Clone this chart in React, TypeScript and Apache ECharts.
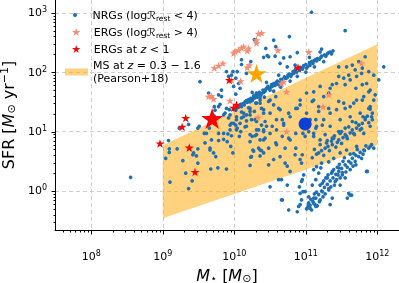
import React, { useEffect, useRef } from "react";
import * as echarts from "echarts";

// ---------- axis ranges / ticks (log10 units) ----------
const X_RANGE_EXP = [7.492, 12.303];
const Y_RANGE_EXP = [-0.657, 3.216];
const X_DECADES = [7, 8, 9, 10, 11, 12];
const Y_DECADES = [-1, 0, 1, 2, 3];
const MINOR_MULT = [2, 3, 4, 5, 6, 7, 8, 9];

// ---------- main sequence band (Pearson+18), log10 SFR ----------
const MS_MASS = [1e9, 1e12];
const MS_LOW_EXP = [-0.46, 0.77];
const MS_HIGH_EXP = [0.77, 2.47];

// ---------- data: [log10 M*, log10 SFR] ----------
const NRG_LOWMASS: number[][] = [
  [8.55, 0.23], [9.08, 0.85], [9.04, 0.55], [9.1, 0.15], [9.09, 0.71], [9.09, 0.65], [9.2, 0.71],
  [9.23, 1.06], [9.36, 1.12], [9.28, 0.51], [9.32, 0.3], [9.36, 0.04], [9.41, 0.17],
  [9.43, 0.64], [9.47, 0.59], [9.42, 0.61], [9.49, 0.71], [9.49, 0.47],
  [9.51, 1.09], [9.49, 1.06], [9.61, 0.97], [9.58, 0.97], [9.65, 1.06],
  [9.59, 0.81], [9.66, 0.72], [9.66, 0.69], [9.71, 0.64], [9.74, 0.58],
  [9.67, 0.37], [9.77, 0.39], [9.89, 0.37],
  [9.68, 0.86], [9.78, 0.85], [9.85, 0.87], [9.9, 0.83], [9.95, 0.75], [9.98, 0.64],
  [9.72, 1.26], [9.72, 1.42], [9.78, 0.97], [9.85, 0.97], [9.91, 0.96], [9.96, 0.93],
  [9.94, 1.11], [9.99, 1.14], [9.92, 1.23], [9.94, 1.28], [9.85, 1.28], [9.93, 1.37], [9.99, 1.37],
  [9.87, 1.31], [9.73, 1.36], [9.78, 1.42], [9.8, 1.46], [9.89, 1.39],
  [10.22, 0.43], [10.23, 0.57], [10.36, 0.59], [10.38, 0.68], [10.34, 0.72], [10.26, 0.69],
  [10.22, 0.83], [10.29, 0.93], [10.34, 1.03], [10.36, 0.86], [10.25, 0.92], [10.38, 1.11],
  [10.03, 1.25], [10.08, 1.14], [10.02, 1.11], [10.04, 1.06], [10.09, 1.0], [10.07, 0.92],
  [10.15, 1.08], [10.17, 1.18], [10.22, 1.28], [10.17, 1.28], [10.24, 1.2], [10.13, 1.31], [10.1, 1.23],
  [10.27, 1.56], [10.31, 1.48], [10.36, 1.53], [10.38, 1.39], [10.41, 1.31], [10.28, 1.34],
  [10.22, 1.39], [10.31, 1.17], [10.41, 1.0],
];
const NRG_UPPER: number[][] = [
  [9.52, 1.84], [9.64, 1.65], [9.78, 1.62], [9.82, 1.7], [9.82, 1.59], [9.98, 2.01], [10.04, 2.01],
  [9.96, 1.95], [10.02, 1.9], [10.06, 1.81], [9.99, 1.76], [10.08, 1.73], [10.02, 1.63], [10.31, 1.65],
  [10.36, 1.57], [10.1, 2.13], [10.28, 2.55], [9.89, 2.01], [9.92, 1.93],
  [11.55, 2.7], [10.77, 2.6], [10.55, 2.54], [10.58, 2.43], [10.44, 2.4], [10.57, 2.27], [10.48, 2.26],
  [10.64, 2.15], [10.41, 2.25], [10.23, 2.18], [10.17, 1.98], [10.1, 2.21], [10.88, 2.33], [10.78, 2.26],
  [11.08, 3.01], [10.46, 2.28], [10.69, 2.24], [10.74, 2.09], [11.22, 2.39], [11.83, 2.26],
  [12.09, 2.09], [12.02, 1.87],
];
const NRG_RIDGE: number[][] = [
  [10.0, 1.38], [10.04, 1.4], [10.07, 1.44], [10.1, 1.42], [10.12, 1.47], [10.15, 1.5], [10.18, 1.49],
  [10.2, 1.54], [10.23, 1.56], [10.25, 1.52], [10.27, 1.6], [10.3, 1.62], [10.32, 1.58], [10.35, 1.66],
  [10.38, 1.64], [10.4, 1.7], [10.43, 1.68], [10.45, 1.73], [10.47, 1.76], [10.5, 1.74], [10.52, 1.79],
  [10.55, 1.81], [10.57, 1.78], [10.6, 1.85], [10.62, 1.83], [10.65, 1.88], [10.67, 1.86], [10.7, 1.92],
  [10.72, 1.9], [10.75, 1.95], [10.77, 1.97], [10.8, 1.96], [10.82, 2.01], [10.85, 2.03], [10.87, 2.0],
  [10.9, 2.06], [10.92, 2.08], [10.95, 2.05], [10.97, 2.11], [11.0, 2.13], [11.03, 2.1], [11.05, 2.16],
  [11.08, 2.18], [11.1, 2.15], [11.13, 2.21], [11.16, 2.23], [11.19, 2.22], [11.22, 2.27], [11.26, 2.29],
  [11.3, 2.31], [11.34, 2.34], [11.38, 2.36],
  [10.1, 1.33], [10.2, 1.4], [10.3, 1.48], [10.42, 1.58], [10.55, 1.68], [10.65, 1.75], [10.78, 1.85],
  [10.88, 1.93], [11.0, 2.0], [11.12, 2.09], [11.25, 2.18],
  [10.25, 1.66], [10.45, 1.83], [10.62, 1.95], [10.85, 2.12], [11.05, 2.25], [11.2, 2.34],
  [10.02, 1.36], [10.06, 1.41], [10.09, 1.46], [10.14, 1.45], [10.17, 1.52], [10.22, 1.5], [10.26, 1.56],
  [10.29, 1.57], [10.33, 1.63], [10.37, 1.61], [10.41, 1.66], [10.44, 1.71], [10.49, 1.72], [10.53, 1.76],
  [10.58, 1.82], [10.61, 1.8], [10.66, 1.84], [10.69, 1.89], [10.74, 1.91], [10.79, 1.93], [10.83, 1.98],
  [10.86, 2.06], [10.91, 2.03], [10.96, 2.08], [11.01, 2.07], [11.06, 2.12], [11.11, 2.19], [11.15, 2.19],
  [11.21, 2.25], [11.28, 2.27], [11.32, 2.33], [11.36, 2.31],
];
const NRG_BAND: number[][] = [
  [10.03, 1.2], [10.13, 1.25], [10.22, 1.34], [10.29, 1.2], [10.41, 1.37], [10.36, 1.48], [10.5, 1.53],
  [10.55, 1.45], [10.64, 1.37], [10.59, 1.2], [10.45, 1.09], [10.31, 1.03], [10.17, 1.09], [10.69, 1.14],
  [10.78, 1.25], [10.88, 1.39], [10.92, 1.53], [11.01, 1.65], [11.11, 1.67], [11.2, 1.76], [11.11, 1.53],
  [11.18, 1.42], [11.25, 1.59], [11.34, 1.73], [11.43, 1.81], [11.53, 1.9], [11.62, 1.87], [11.71, 1.93],
  [11.57, 2.09], [11.69, 2.04], [11.78, 1.98], [11.85, 1.81], [11.9, 1.7], [11.81, 1.59], [11.71, 1.53],
  [11.62, 1.42], [11.53, 1.48], [11.43, 1.37], [11.34, 1.31], [11.25, 1.2], [11.15, 1.09], [11.06, 1.2],
  [11.01, 1.31], [10.96, 1.14], [11.11, 0.97], [11.34, 1.09], [11.48, 1.2], [11.62, 1.25], [11.76, 1.31],
  [11.9, 1.42], [11.95, 1.53], [10.64, 1.76], [10.5, 1.7],
  [11.46, 2.09], [11.65, 2.12], [11.74, 2.18], [11.79, 2.07], [11.88, 2.01], [11.95, 1.95], [11.6, 1.95],
  [11.46, 1.93], [11.55, 1.79], [11.7, 1.73], [11.79, 1.79], [11.88, 1.67], [11.97, 1.62], [11.37, 1.79],
  [11.32, 1.65],
  [10.48, 1.51], [10.58, 1.59], [10.62, 1.39], [10.5, 1.31], [10.43, 1.17], [10.53, 1.09], [10.67, 1.2],
  [10.76, 1.31], [10.86, 1.39], [10.92, 1.45], [11.09, 1.51], [11.18, 1.34], [11.32, 1.39], [11.46, 1.51],
  [11.55, 1.39], [11.67, 1.48], [11.79, 1.53], [11.88, 1.39], [11.83, 1.23], [11.74, 1.11], [11.65, 1.17],
  [11.55, 1.06], [11.46, 1.0], [11.37, 0.89], [11.27, 0.95], [11.23, 1.11], [11.14, 1.2], [11.14, 1.06],
  [11.04, 1.0], [10.99, 0.92], [10.86, 0.97], [10.76, 0.89], [10.67, 0.92], [10.58, 0.81], [10.48, 0.72],
  [10.43, 0.89], [10.71, 0.72], [10.86, 0.72], [10.71, 0.47], [10.48, 0.44], [10.95, 0.61],
  [11.09, 0.56], [11.18, 0.64], [11.27, 0.72], [11.37, 0.78], [11.46, 0.86], [11.55, 0.95], [11.65, 1.03],
  [11.74, 1.11], [11.83, 1.2], [11.93, 1.31], [11.12, 0.7], [11.2, 0.78], [11.25, 0.6], [11.3, 0.85],
  [11.33, 0.68], [11.4, 0.93], [11.42, 0.74], [11.5, 0.8], [11.5, 1.0], [11.58, 0.88], [11.6, 1.08],
  [11.68, 0.95], [11.7, 1.15], [11.78, 1.05], [11.8, 1.25], [11.88, 1.15], [11.9, 1.38], [11.93, 1.2],
  [11.15, 0.62], [11.22, 0.68], [11.31, 0.75], [11.36, 0.84], [11.44, 0.82], [11.52, 0.9], [11.62, 0.98],
  [11.71, 1.06], [11.79, 1.14], [11.86, 1.26], [11.92, 1.25],
  [9.94, 1.03], [10.03, 1.03], [10.22, 0.95], [10.31, 0.95], [10.41, 1.03], [10.5, 0.97], [10.59, 1.03],
  [10.69, 1.11], [10.27, 0.67], [10.24, 0.58], [10.36, 0.69], [10.41, 0.86], [10.59, 0.78], [10.78, 0.86],
  [10.96, 0.97], [11.11, 0.92], [11.2, 0.86], [11.29, 0.81], [11.39, 0.89], [11.48, 0.97], [11.57, 0.92],
  [11.67, 0.97], [11.76, 1.03], [11.81, 0.97], [11.9, 1.09], [10.78, 0.33], [10.94, 0.47], [10.92, 0.53],
  [9.96, 1.14], [10.41, 0.64], [10.55, 0.53], [10.64, 0.58], [10.74, 0.42], [10.85, 0.61],
];
const NRG_LOWER: number[][] = [
  [10.66, -0.15], [10.76, -0.32], [10.88, -0.35], [10.92, -0.23], [10.94, -0.15], [10.96, -0.01],
  [10.94, 0.16], [11.11, 0.36], [11.15, 0.41], [11.22, 0.47], [11.32, 0.49], [11.39, 0.55], [11.48, 0.64],
  [11.57, 0.69], [11.71, 0.75], [11.81, 0.69], [11.9, 0.75], [11.95, 0.72], [11.85, 0.33], [11.6, -0.04],
  [11.64, -0.07], [11.2, -0.15], [11.13, -0.23], [11.06, -0.29], [10.66, 0.19], [10.5, 0.07],
  [11.01, -0.3], [11.06, -0.24], [11.1, -0.18], [11.14, -0.12], [11.18, -0.06], [11.22, 0.0], [11.26, 0.06],
  [11.3, 0.11], [11.34, 0.17], [11.38, 0.22], [11.42, 0.28], [11.46, 0.33], [11.5, 0.38], [11.55, 0.44],
  [11.6, 0.5], [11.65, 0.55], [11.7, 0.6], [11.76, 0.65], [11.82, 0.68], [11.88, 0.72],
  [11.04, -0.2], [11.08, -0.32], [11.12, -0.05], [11.16, -0.25], [11.2, 0.1], [11.24, -0.1], [11.28, 0.22],
  [11.32, 0.02], [11.36, 0.3], [11.4, 0.1], [11.44, 0.4], [11.48, 0.22], [11.52, 0.5], [11.56, 0.32],
  [11.62, 0.62], [11.66, 0.42], [11.72, 0.7], [11.78, 0.55],
  [11.04, -0.23], [11.11, -0.12], [11.23, -0.01], [11.32, 0.04], [11.41, 0.16], [11.51, 0.27], [11.62, 0.36],
  [11.7, 0.44], [11.09, 0.1], [11.14, 0.19], [11.18, 0.3], [11.21, 0.39], [11.3, 0.22], [11.37, 0.33],
  [11.46, 0.39], [10.99, -0.01], [11.04, -0.1], [11.14, -0.26], [11.02, -0.29], [10.9, -0.26],
  [10.67, -0.15], [10.92, -0.04], [10.95, 0.19], [10.97, 0.27], [10.91, 0.07], [10.74, 0.1], [10.62, 0.19],
  [11.34, -0.23], [11.37, -0.12], [11.48, 0.1], [11.58, -0.12], [11.62, -0.07], [11.86, 0.33], [11.55, 0.22],
  [11.03, -0.27], [11.07, -0.14], [11.11, -0.21], [11.15, -0.02], [11.19, -0.18], [11.23, 0.13],
  [11.27, -0.05], [11.31, 0.27], [11.35, 0.07], [11.39, 0.36], [11.43, 0.19], [11.47, 0.45], [11.51, 0.31],
  [11.54, 0.56], [11.58, 0.4], [11.63, 0.47], [11.67, 0.63], [11.74, 0.58], [11.8, 0.62], [11.84, 0.76],
  [11.92, 0.78], [11.69, 0.5], [11.45, 0.27], [11.25, 0.17],
];
const ERG_HIGH: number[][] = [
  [10.01, 2.35], [10.1, 2.41], [10.2, 2.4], [10.31, 2.54], [10.34, 2.65], [10.38, 2.66], [10.31, 2.49],
  [10.13, 2.43], [10.06, 2.37], [10.18, 2.36], [9.99, 2.32], [10.21, 2.12], [10.18, 2.08], [10.09, 1.85],
  [9.72, 2.07], [9.78, 2.11], [9.84, 2.15], [9.96, 1.87], [9.64, 1.59], [9.68, 1.6], [9.71, 1.55],
  [9.94, 1.52], [10.61, 2.37], [11.04, 2.34], [10.69, 1.84], [10.66, 1.81], [10.73, 1.67], [11.78, 2.15],
  [11.32, 1.62], [11.24, 1.42], [10.33, 1.24], [10.73, 1.0],
];
const ERG_LOWZ: number[][] = [
  [8.96, 0.8], [9.32, 1.23], [9.27, 1.08], [9.37, 0.73], [9.45, 0.32], [9.99, 1.4], [10.03, 1.45],
  [9.93, 1.87], [10.89, 2.08],
];
const BIG_RED: number[][] = [[9.69, 1.22]];
const BIG_ORANGE: number[][] = [[10.31, 1.98]];
const BIG_BLUE: number[][] = [[10.99, 1.13]];

const FONT = "DejaVu Sans";
const INK = "#000000";
const STAR =
  "path://M0,-10L2.245,-3.09L9.511,-3.09L3.633,1.18L5.878,8.09L0,3.82L-5.878,8.09L-3.633,1.18L-9.511,-3.09L-2.245,-3.09Z";
const BAND_COLOR = "rgba(255,165,0,0.5)";

const toLin = (arr: number[][]) => arr.map(([m, s]) => [Math.pow(10, m), Math.pow(10, s)]);

export default function App() {
  const ref = useRef<HTMLDivElement>(null);
  useEffect(() => {
    const chart = echarts.init(ref.current!, null, { renderer: "svg" });
    const xMin = Math.pow(10, X_RANGE_EXP[0]);
    const xMax = Math.pow(10, X_RANGE_EXP[1]);
    const yMin = Math.pow(10, Y_RANGE_EXP[0]);
    const yMax = Math.pow(10, Y_RANGE_EXP[1]);

    const tickList = (decades: number[], range: number[]) => {
      const major: number[] = [];
      const minor: number[] = [];
      decades.forEach((e) => {
        if (e >= range[0] && e <= range[1]) major.push(Math.pow(10, e));
        MINOR_MULT.forEach((m) => {
          const lv = e + Math.log10(m);
          if (lv > range[0] && lv < range[1]) minor.push(m * Math.pow(10, e));
        });
      });
      return { major, minor };
    };
    const xt = tickList(X_DECADES, X_RANGE_EXP);
    const yt = tickList(Y_DECADES, Y_RANGE_EXP);

    const labelRich = {
      b: { fontFamily: FONT, fontSize: 11, color: INK, lineHeight: 14 },
      s: { fontFamily: FONT, fontSize: 8, color: INK, lineHeight: 8, verticalAlign: "top" },
    };
    const powFmt = (v: number) => `{b|10}{s|${Math.round(Math.log10(v))}}`;

    const nameRich = {
      it: { fontFamily: FONT, fontSize: 16, fontStyle: "italic", color: INK, lineHeight: 18 },
      sub: { fontFamily: FONT, fontSize: 11, color: INK, lineHeight: 12, verticalAlign: "bottom" },
      sup: { fontFamily: FONT, fontSize: 11, color: INK, lineHeight: 12, verticalAlign: "top" },
    };
    const legendRich = {
      cal: { fontFamily: FONT, fontSize: 11, color: INK, lineHeight: 14 },
      sub: { fontFamily: FONT, fontSize: 7.5, color: INK, lineHeight: 8, verticalAlign: "bottom" },
      it: { fontFamily: FONT, fontSize: 11, fontStyle: "italic", color: INK, lineHeight: 14 },
      it2: { fontFamily: FONT, fontSize: 11, fontStyle: "italic", color: INK, lineHeight: 13 },
    };
    const legendText: Record<string, string> = {
      NRGs: "NRGs (log{cal|ℛ}{sub|rest} < 4)",
      ERGs: "ERGs (log{cal|ℛ}{sub|rest} > 4)",
      "ERGs z<1": "ERGs at {it|z} < 1",
      MS: "MS at {it2|z} = 0.3 − 1.6\n(Pearson+18)",
    };
    const legendBase = {
      orient: "vertical",
      padding: 0,
      itemGap: 3,
      selectedMode: false,
      formatter: (n: string) => legendText[n] || n,
      textStyle: { fontFamily: FONT, fontSize: 11, color: INK, lineHeight: 14, rich: legendRich },
    };

    const option: any = {
      animation: false,
      grid: { left: 55, right: 0, top: 0, bottom: 53, containLabel: false, outerBoundsMode: "none" },
      legend: [
        { ...legendBase, left: 73, top: 8, itemWidth: 25, itemHeight: 4, data: [{ name: "NRGs", icon: "circle" }] },
        { ...legendBase, left: 72, top: 25, itemWidth: 25, itemHeight: 8, data: ["ERGs", "ERGs z<1"] },
        {
          ...legendBase,
          left: 65,
          top: 59,
          itemWidth: 23,
          itemHeight: 7,
          textStyle: { ...legendBase.textStyle, lineHeight: 13 },
          data: [{ name: "MS", icon: "rect", itemStyle: { color: BAND_COLOR } }],
        },
      ],
      xAxis: {
        type: "log",
        min: xMin,
        max: xMax,
        name: "{it|M}{sub|⋆} [{it|M}{sub|⊙}]",
        nameLocation: "middle",
        nameGap: 29,
        nameTextStyle: { fontFamily: FONT, fontSize: 16, color: INK, lineHeight: 18, rich: nameRich },
        axisLine: { onZero: false, lineStyle: { color: INK, width: 1 } },
        axisTick: { show: false },
        axisLabel: {
          margin: 19,
          showMinLabel: false,
          showMaxLabel: false,
          formatter: powFmt,
          rich: labelRich,
        },
        splitLine: {
          show: true,
          showMinLine: false,
          showMaxLine: false,
          lineStyle: { color: "#cfcfcf", width: 1, type: [4, 3] },
        },
      },
      yAxis: {
        type: "log",
        min: yMin,
        max: yMax,
        name: "SFR [{it|M}{sub|⊙} yr{sup|−1}]",
        nameLocation: "middle",
        nameGap: 31,
        nameTextStyle: { fontFamily: FONT, fontSize: 16, color: INK, lineHeight: 18, rich: nameRich },
        axisLine: { onZero: false, lineStyle: { color: INK, width: 1 } },
        axisTick: { show: false },
        axisLabel: {
          margin: 8,
          showMinLabel: false,
          showMaxLabel: false,
          formatter: powFmt,
          rich: labelRich,
        },
        splitLine: {
          show: true,
          showMinLine: false,
          showMaxLine: false,
          lineStyle: { color: "#cfcfcf", width: 1, type: [4, 3] },
        },
      },
      series: [
        {
          name: "MS",
          type: "custom",
          silent: true,
          itemStyle: { color: BAND_COLOR },
          data: [[MS_MASS[0], Math.pow(10, MS_LOW_EXP[0])]],
          renderItem: (_p: any, api: any) => {
            const pts = [
              api.coord([MS_MASS[0], Math.pow(10, MS_LOW_EXP[0])]),
              api.coord([MS_MASS[1], Math.pow(10, MS_LOW_EXP[1])]),
              api.coord([MS_MASS[1], Math.pow(10, MS_HIGH_EXP[1])]),
              api.coord([MS_MASS[0], Math.pow(10, MS_HIGH_EXP[0])]),
            ];
            return { type: "polygon", shape: { points: pts }, style: { fill: BAND_COLOR } };
          },
        },
        {
          name: "NRGs",
          type: "scatter",
          silent: true,
          symbol: "circle",
          symbolSize: 3.7,
          itemStyle: { color: "#1f6fb4", opacity: 1 },
          data: toLin([...NRG_LOWMASS, ...NRG_UPPER, ...NRG_RIDGE, ...NRG_BAND, ...NRG_LOWER]),
        },
        {
          name: "ERGs",
          type: "scatter",
          silent: true,
          symbol: STAR,
          symbolKeepAspect: true,
          symbolSize: 8,
          itemStyle: { color: "#f58d72", opacity: 1 },
          data: toLin(ERG_HIGH),
        },
        {
          name: "ERGs z<1",
          type: "scatter",
          silent: true,
          symbol: STAR,
          symbolKeepAspect: true,
          symbolSize: 9,
          itemStyle: { color: "#ff0000", opacity: 1 },
          data: toLin(ERG_LOWZ),
        },
        {
          name: "bigRed",
          type: "scatter",
          silent: true,
          symbol: STAR,
          symbolKeepAspect: true,
          symbolSize: 22,
          itemStyle: { color: "#ff0000", opacity: 1 },
          data: toLin(BIG_RED),
        },
        {
          name: "bigOrange",
          type: "scatter",
          silent: true,
          symbol: STAR,
          symbolKeepAspect: true,
          symbolSize: 20,
          itemStyle: { color: "#ffa500", opacity: 1 },
          data: toLin(BIG_ORANGE),
        },
        {
          name: "bigBlue",
          type: "scatter",
          silent: true,
          symbol: "circle",
          symbolSize: 13,
          itemStyle: { color: "#0b3fd6", opacity: 1 },
          data: toLin(BIG_BLUE),
        },
        {
          name: "ticks",
          type: "custom",
          silent: true,
          clip: false,
          z: 10,
          data: [[xMin, yMin]],
          renderItem: (_p: any, api: any) => {
            const o = api.coord([xMin, yMin]);
            const bx = Math.round(o[0]) + 0.5;
            const by = Math.round(o[1]) + 0.5;
            const children: any[] = [];
            const addX = (v: number, len: number) => {
              const x = Math.round(api.coord([v, yMin])[0]) + 0.5;
              children.push({ type: "line", shape: { x1: x, y1: by, x2: x, y2: by + len }, style: { stroke: INK, lineWidth: 1 } });
            };
            const addY = (v: number, len: number) => {
              const y = Math.round(api.coord([xMin, v])[1]) + 0.5;
              children.push({ type: "line", shape: { x1: bx, y1: y, x2: bx - len, y2: y }, style: { stroke: INK, lineWidth: 1 } });
            };
            xt.major.forEach((v) => addX(v, 4));
            xt.minor.forEach((v) => addX(v, 2));
            yt.major.forEach((v) => addY(v, 4));
            yt.minor.forEach((v) => addY(v, 2));
            return { type: "group", children };
          },
        },
      ],
    };
    chart.setOption(option);
    return () => chart.dispose();
  }, []);
  return <div ref={ref} style={{ position: "fixed", left: 0, top: 0, width: 399, height: 283 }} />;
}
